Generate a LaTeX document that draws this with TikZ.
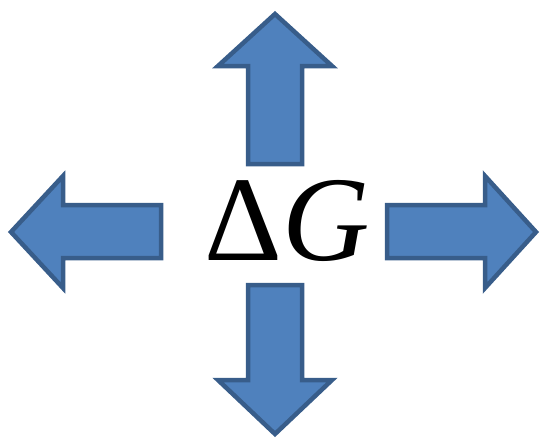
\documentclass[tikz,border=0pt]{standalone}
\usepackage{fontspec}
\setmainfont{Liberation Serif}
\definecolor{arrowfill}{HTML}{4F81BD}
\definecolor{arrowline}{HTML}{385D8A}
\begin{document}
\begin{tikzpicture}[x=1pt,y=-1pt,
  blockarrow/.style={fill=arrowfill,draw=arrowline,line width=4.5pt,line join=miter}]
\useasboundingbox (0,0) rectangle (541,439);
% up
\path[blockarrow] (275,14) -- (332,66) -- (302,66) -- (302,164) -- (248,164) -- (248,66) -- (218,66) -- cycle;
% down
\path[blockarrow] (275,434) -- (332,380) -- (302,380) -- (302,285) -- (248,285) -- (248,380) -- (218,380) -- cycle;
% left
\path[blockarrow] (11,232) -- (63,176) -- (63,205) -- (161,205) -- (161,258) -- (63,258) -- (63,288) -- cycle;
% right
\path[blockarrow] (536,232) -- (485,176) -- (485,205) -- (387,205) -- (387,258) -- (485,258) -- (485,288) -- cycle;
\node[anchor=base,inner sep=0pt,font=\fontsize{121}{121}\selectfont] (dg) at (287.5,260) {Δ\textit{G}};
\end{tikzpicture}
\end{document}
